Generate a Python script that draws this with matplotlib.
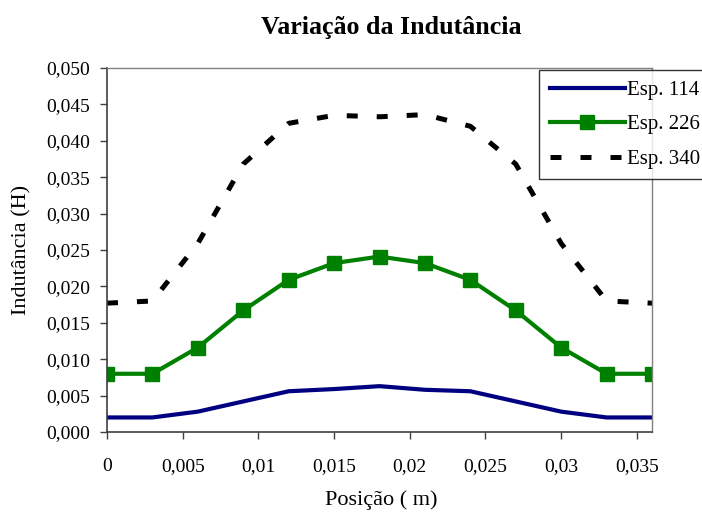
import matplotlib
matplotlib.use('Agg')
import matplotlib.pyplot as plt
from matplotlib.ticker import FuncFormatter

plt.rcParams['font.family'] = ['Liberation Serif', 'DejaVu Serif']

# dados
posicao = [0, 0.003, 0.006, 0.009, 0.012, 0.015, 0.018, 0.021, 0.024, 0.027, 0.030, 0.033, 0.036]
esp_114 = [0.0020, 0.0020, 0.0028, 0.0042, 0.0056, 0.0059, 0.0063, 0.0058, 0.0056, 0.0042, 0.0028, 0.0020, 0.0020]
esp_226 = [0.0080, 0.0080, 0.0116, 0.0167, 0.0209, 0.0232, 0.0241, 0.0232, 0.0209, 0.0167, 0.0116, 0.0080, 0.0080]
esp_340 = [0.0177, 0.0180, 0.0259, 0.0368, 0.0424, 0.0435, 0.0433, 0.0436, 0.0420, 0.0368, 0.0259, 0.0180, 0.0177]
series_labels = ['Esp. 114', 'Esp. 226', 'Esp. 340']

xticks = [0, 0.005, 0.01, 0.015, 0.02, 0.025, 0.03, 0.035]
yticks = [0, 0.005, 0.010, 0.015, 0.020, 0.025, 0.030, 0.035, 0.040, 0.045, 0.050]

fig = plt.figure(figsize=(7.02, 5.14), dpi=100)
ax = fig.add_axes([0.1524, 0.1595, 0.7764, 0.7082])

ax.plot(posicao, esp_114, color='#000080', linewidth=3, label=series_labels[0])
ax.plot(posicao, esp_226, color='#008000', linewidth=3, marker='s', markersize=9.5,
        label=series_labels[1])
ax.plot(posicao, esp_340, color='black', linewidth=3.6, linestyle=(0, (2.2, 3.8)),
        dash_capstyle='butt', label=series_labels[2])

ax.set_xlim(0, 0.036)
ax.set_ylim(0, 0.050)
ax.set_xticks(xticks)
ax.set_yticks(yticks)
ax.xaxis.set_major_formatter(FuncFormatter(lambda v, p: ('%g' % v).replace('.', ',')))
ax.yaxis.set_major_formatter(FuncFormatter(lambda v, p: ('%.3f' % v).replace('.', ',')))

ax.tick_params(axis='both', direction='out', length=5, width=1, colors='#404040',
               labelcolor='black', labelsize=14)
ax.tick_params(axis='x', pad=14)
ax.tick_params(axis='y', pad=7)

for side in ['left', 'bottom']:
    ax.spines[side].set_color('#404040')
    ax.spines[side].set_linewidth(1.2)
for side in ['top', 'right']:
    ax.spines[side].set_color('#808080')
    ax.spines[side].set_linewidth(1)

fig.text(0.558, 0.947, 'Variação da Indutância', ha='center', va='center',
         fontsize=18.7, fontweight='bold')
fig.text(0.543, 0.027, 'Posição ( m)', ha='center', va='center', fontsize=16)
fig.text(0.031, 0.514, 'Indutância (H)', ha='center', va='center', rotation=90, fontsize=16)

leg = ax.legend(loc='upper left', bbox_to_anchor=(0.768, 0.864),
                bbox_transform=fig.transFigure, fontsize=15, frameon=True,
                fancybox=False, shadow=False, handlelength=3.6, handletextpad=0.12,
                borderpad=0.5, labelspacing=0.72, borderaxespad=0, numpoints=1)
leg.get_frame().set_edgecolor('black')
leg.get_frame().set_linewidth(1)

fig.savefig('out.png', dpi=100, facecolor='white')
